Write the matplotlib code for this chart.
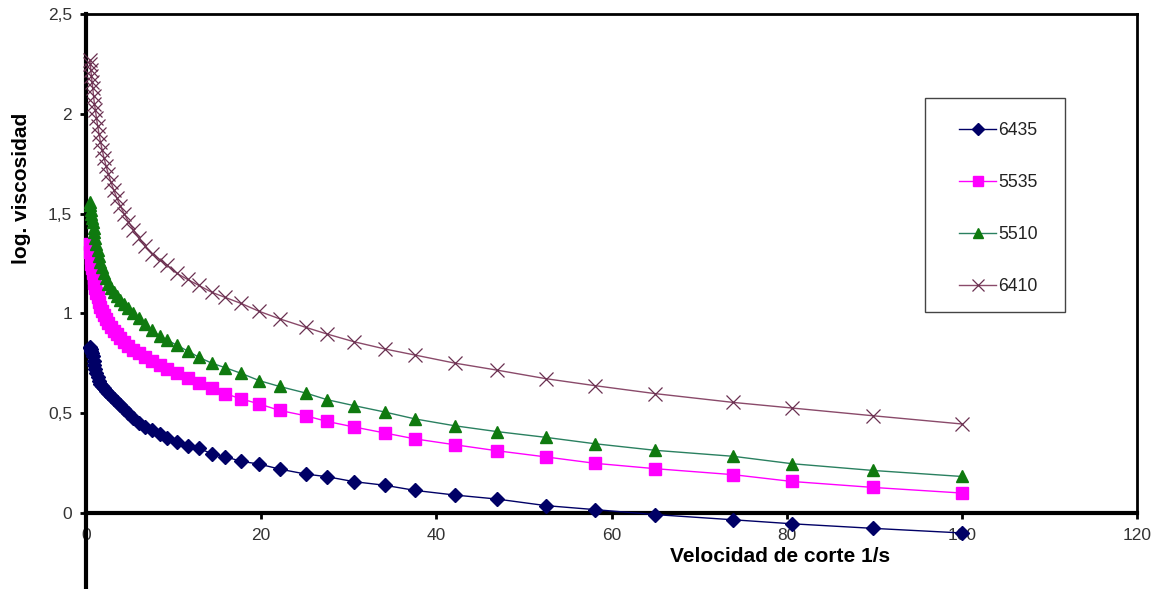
import matplotlib
matplotlib.use("Agg")
import matplotlib.pyplot as plt
from matplotlib.ticker import FuncFormatter
from matplotlib.lines import Line2D
from matplotlib.patches import Rectangle

plt.rcParams['font.family'] = ['Liberation Sans', 'DejaVu Sans']

# shared shear-rate values (1/s)
x_vals = [100, 89.9, 80.6, 73.9, 65.0, 58.1, 52.5, 46.9, 42.1, 37.6, 34.1, 30.6,
          27.5, 25.1, 22.1, 19.8, 17.7, 15.9, 14.4, 12.9, 11.6, 10.4, 9.3, 8.4,
          7.5, 6.7, 6.0, 5.4, 4.85, 4.35, 3.9, 3.5, 3.15, 2.83, 2.54, 2.28, 2.05,
          1.84, 1.65, 1.48, 1.33, 1.19, 1.07, 0.96, 0.86, 0.77, 0.69, 0.62, 0.55,
          0.49, 0.44]

s6435 = [-0.100, -0.077, -0.054, -0.034, -0.008, 0.017, 0.037, 0.070, 0.090, 0.113,
         0.139, 0.157, 0.182, 0.195, 0.220, 0.245, 0.259, 0.282, 0.296, 0.324, 0.337,
         0.357, 0.376, 0.396, 0.417, 0.430, 0.450, 0.476, 0.500, 0.520, 0.540, 0.555,
         0.570, 0.585, 0.600, 0.610, 0.625, 0.635, 0.645, 0.660, 0.680, 0.700, 0.720,
         0.740, 0.760, 0.785, 0.800, 0.810, 0.820, 0.825, 0.830]

s5535 = [0.100, 0.128, 0.158, 0.192, 0.222, 0.249, 0.281, 0.312, 0.342, 0.371, 0.401,
         0.431, 0.459, 0.487, 0.514, 0.546, 0.572, 0.598, 0.624, 0.650, 0.675, 0.700,
         0.720, 0.742, 0.762, 0.782, 0.800, 0.818, 0.838, 0.858, 0.877, 0.895, 0.912,
         0.930, 0.950, 0.970, 0.990, 1.010, 1.030, 1.055, 1.080, 1.100, 1.125, 1.150,
         1.175, 1.200, 1.225, 1.250, 1.280, 1.310, 1.350]

s5510 = [0.183, 0.213, 0.247, 0.284, 0.314, 0.347, 0.379, 0.408, 0.437, 0.471, 0.506,
         0.538, 0.568, 0.601, 0.634, 0.663, 0.700, 0.728, 0.750, 0.780, 0.812, 0.840,
         0.866, 0.888, 0.915, 0.945, 0.975, 1.000, 1.025, 1.048, 1.068, 1.088, 1.105,
         1.125, 1.145, 1.175, 1.200, 1.230, 1.260, 1.290, 1.320, 1.350, 1.380, 1.410,
         1.430, 1.460, 1.480, 1.500, 1.520, 1.545, 1.560]

s6410 = [0.446, 0.487, 0.526, 0.554, 0.598, 0.638, 0.673, 0.716, 0.751, 0.791, 0.822,
         0.858, 0.897, 0.930, 0.973, 1.010, 1.050, 1.080, 1.105, 1.140, 1.170, 1.200,
         1.240, 1.270, 1.300, 1.340, 1.380, 1.420, 1.460, 1.500, 1.540, 1.580, 1.620,
         1.660, 1.700, 1.740, 1.780, 1.820, 1.860, 1.900, 1.940, 1.980, 2.020, 2.050,
         2.090, 2.130, 2.160, 2.190, 2.220, 2.250, 2.270]

labels = ['6435', '5535', '5510', '6410']
x_ticks = [0, 20, 40, 60, 80, 100, 120]
y_ticks = [0, 0.5, 1, 1.5, 2, 2.5]

W, H = 1159, 589
fig = plt.figure(figsize=(W / 100, H / 100), dpi=100)
ax = fig.add_axes([86 / W, (H - 513) / H, (1137 - 86) / W, (513 - 14) / H])

styles = [
    dict(color='#000066', marker='D', markersize=7.5, markerfacecolor='#000066',
         markeredgecolor='#000066', lw=1.0),
    dict(color='#ff00ff', marker='s', markersize=8.5, markerfacecolor='#ff00ff',
         markeredgecolor='#ff00ff', lw=1.0),
    dict(color='#2a8060', marker='^', markersize=9, markerfacecolor='#0f7a0f',
         markeredgecolor='#0f7a0f', lw=1.0),
    dict(color='#8a4a6a', marker='x', markersize=10.5, markerfacecolor='none',
         markeredgecolor='#6a3050', markeredgewidth=0.9, lw=1.0),
]

handles = []
for ys, lab, st in zip([s6435, s5535, s5510, s6410], labels, styles):
    ln, = ax.plot(x_vals, ys, label=lab, clip_on=False, zorder=3, **st)
    handles.append(ln)

ax.set_xlim(0, 120)
ax.set_ylim(0, 2.5)
ax.set_xticks(x_ticks)
ax.set_yticks(y_ticks)
fmt = FuncFormatter(lambda v, p: ('%g' % v).replace('.', ','))
ax.xaxis.set_major_formatter(fmt)
ax.yaxis.set_major_formatter(fmt)
ax.tick_params(axis='both', direction='out', length=4, width=2, labelsize=12.5,
               labelcolor='#333333', color='black')
ax.tick_params(axis='x', pad=7)
ax.tick_params(axis='y', pad=6)

for side in ['top', 'right']:
    ax.spines[side].set_linewidth(2)
ax.spines['left'].set_linewidth(3)
ax.spines['bottom'].set_linewidth(3)

# left axis line extends below the x axis
ax.add_line(Line2D([0, 0], [0, -76 / 499], transform=ax.transAxes, color='black',
                   lw=3, clip_on=False))

fig.text(22 / W, 1 - 188 / H, 'log. viscosidad', rotation=90, ha='center',
         va='center', fontsize=15, fontweight='bold')
fig.text(780 / W, 1 - 556 / H, 'Velocidad de corte 1/s', ha='center', va='center',
         fontsize=15, fontweight='bold')

# legend frame
ax.add_patch(Rectangle((925 / W, 1 - 312 / H), 140 / W, 214 / H,
                       transform=fig.transFigure, facecolor='white',
                       edgecolor='#444444', lw=1.0, zorder=4, clip_on=False))
leg = ax.legend(handles=handles, loc='upper left',
                bbox_to_anchor=(959 / W, 1 - 122 / H), bbox_transform=fig.transFigure,
                frameon=False, fontsize=12.7,
                labelspacing=1.99, handlelength=2.1, handletextpad=0.1,
                borderpad=0, borderaxespad=0, markerscale=0.85)
leg.set_zorder(6)
for t in leg.get_texts():
    t.set_color('#222222')

fig.savefig('out.png', dpi=100)
